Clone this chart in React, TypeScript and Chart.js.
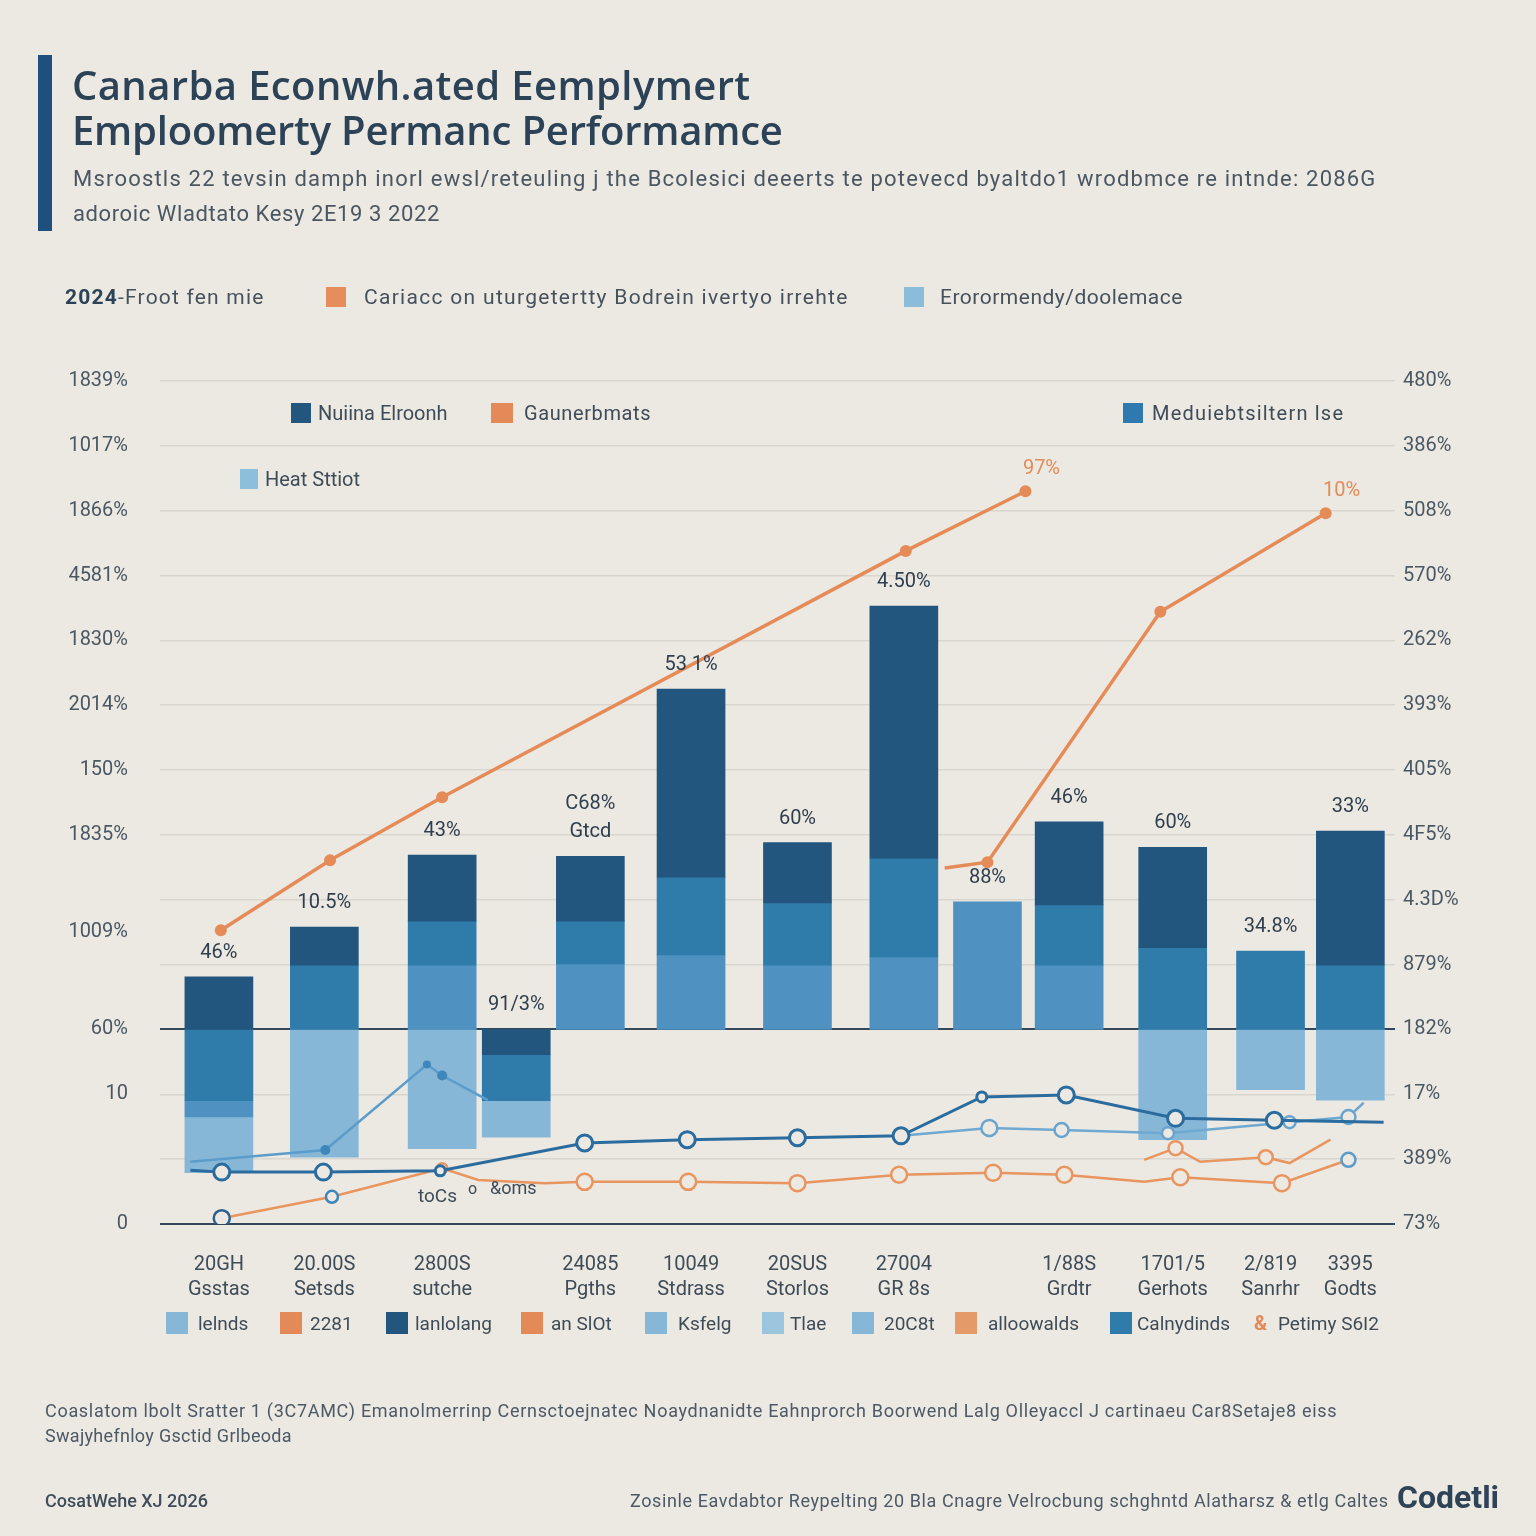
import React, { useEffect, useRef } from "react";
import { Chart, registerables } from "chart.js";

Chart.register(...registerables);

// ---------- DATA ----------
const categories: (string | string[])[] = [
  ["20GH", "Gsstas"], ["20.00S", "Setsds"], ["2800S", "sutche"], "",
  ["24085", "Pgths"], ["10049", "Stdrass"], ["20SUS", "Storlos"], ["27004", "GR 8s"], "",
  ["1/88S", "Grdtr"], ["1701/5", "Gerhots"], ["2/819", "Sanrhr"], ["3395", "Godts"],
];
// x value of each group (period index, irregular spacing as in the source)
const barX = [0.12, 1.23, 2.47, 3.25, 4.03, 5.09, 6.21, 7.33, 8.21, 9.07, 10.16, 11.19, 12.03];

// floating bar segments [from, to] per tone
const darkSeg = [[3, 3.81], [3.99, 4.58], [4.67, 5.69], [2.61, 3], [4.67, 5.67], [5.35, 8.25], [4.95, 5.88], [5.64, 9.53], null, [4.92, 6.2], [4.26, 5.81], null, [3.99, 6.06]];
const midSeg = [[1.9, 3], [3, 3.99], [3.99, 4.67], [1.9, 2.61], [4.01, 4.67], [4.15, 5.35], [3.99, 4.95], [4.12, 5.64], null, [3.99, 4.92], [3, 4.26], [3, 4.21], [3, 3.99]];
const lightSeg = [[1.65, 1.9], null, [3, 3.99], null, [3, 4.01], [3, 4.15], [3, 3.99], [3, 4.12], [3, 4.97], [3, 3.99], null, null, null];
const paleSeg = [[0.79, 1.65], [1.03, 3], [1.16, 3], [1.34, 1.9], null, null, null, null, null, null, [1.3, 3], [2.07, 3], [1.91, 3]];

const barLabels: (string | string[])[] = ["46%", "10.5%", "43%", "91/3%", ["Gtcd", "C68%"], "53 1%", "60%", "4.50%", "88%", "46%", "60%", "34.8%", "33%"];

// line series (x in period-index units)
const orangeAX = [0.14, 1.29, 2.47, 7.35, 8.61];
const orangeAY = [4.53, 5.61, 6.58, 10.38, 11.3];
const orangeBX = [7.76, 8.21, 10.03, 11.77];
const orangeBY = [5.49, 5.58, 9.44, 10.96];
const blueL1X = [-0.18, 1.24, 2.31, 2.47, 2.95];
const blueL1Y = [0.96, 1.14, 2.46, 2.29, 1.91];
const blueD1X = [-0.18, 0.15, 1.22, 2.45, 3.97, 5.05, 6.21, 7.3, 8.15, 9.04, 10.19, 11.23, 12.38];
const blueD1Y = [0.83, 0.8, 0.8, 0.82, 1.25, 1.3, 1.33, 1.36, 1.96, 1.99, 1.63, 1.6, 1.57];
const blueL2X = [7.3, 8.23, 8.99, 10.11, 11.39, 12.01, 12.17];
const blueL2Y = [1.36, 1.48, 1.45, 1.4, 1.57, 1.65, 1.87];
const orangeLowX = [0.15, 1.31, 2.47, 2.85, 3.55, 3.97, 5.06, 6.21, 7.28, 8.27, 9.02, 9.86, 10.24, 11.31, 12.01];
const orangeLowY = [0.09, 0.42, 0.86, 0.68, 0.63, 0.65, 0.65, 0.63, 0.76, 0.79, 0.76, 0.65, 0.72, 0.63, 0.99];
const orangeLow2X = [9.86, 10.19, 10.45, 11.14, 11.39, 11.82];
const orangeLow2Y = [0.99, 1.17, 0.96, 1.03, 0.94, 1.3];
const lineEndLabels = ["97%", "10%"];

const leftTickValues = [13, 12, 11, 10, 9, 8, 7, 6, 4.5, 3, 2, 0];
const leftTickLabels = ["1839%", "1017%", "1866%", "4581%", "1830%", "2014%", "150%", "1835%", "1009%", "60%", "10", "0"];
const rightTickLabels = ["73%", "389%", "17%", "182%", "879%", "4.3D%", "4F5%", "405%", "393%", "262%", "570%", "508%", "386%", "480%"];

// ---------- STYLE ----------
const BG = "#ece8e2";
const DARK = "#22567f";
const MID = "#2f7cab";
const LIGHT = "#4f92c1";
const PALE = "#86b7d6";
const ORANGE = "#e58b57";
const TEXT = "#3e4c58";
const FONT = "Roboto, 'DejaVu Sans', sans-serif";

const pts = (xs: number[], ys: number[]) => xs.map((x, i) => ({ x, y: ys[i] }));
const segPts = (segs: (number[] | null)[]) => segs.map((s, i) => ({ x: barX[i], y: s }));

const labelPlugin = {
  id: "labels",
  afterDatasetsDraw(chart: any) {
    const ctx = chart.ctx;
    const xs = chart.scales.x;
    const ys = chart.scales.y;
    ctx.save();
    ctx.font = `20px ${FONT}`;
    ctx.fillStyle = "#2f3f4e";
    ctx.textAlign = "center";
    ctx.textBaseline = "middle";
    barLabels.forEach((lab, i) => {
      const segs = [darkSeg[i], midSeg[i], lightSeg[i], paleSeg[i]].filter(Boolean) as number[][];
      const top = Math.max(...segs.map((s) => s[1]));
      const px = xs.getPixelForValue(barX[i]);
      let py = ys.getPixelForValue(top) - 24;
      const lines = Array.isArray(lab) ? lab : [lab];
      lines.forEach((l) => {
        ctx.fillText(l, px, py);
        py -= 28;
      });
    });
    ctx.fillStyle = ORANGE;
    [0, 1].forEach((di) => {
      const meta = chart.getDatasetMeta(di);
      const last = meta.data[meta.data.length - 1];
      ctx.fillText(lineEndLabels[di], last.x + 16, last.y - 22);
    });
    ctx.restore();
  },
};

function Txt(props: { x: number; y: number; size: number; color?: string; weight?: number; family?: string; children: any; ls?: number }) {
  const lh = Math.round(props.size * 1.3);
  return (
    <div
      style={{
        position: "absolute",
        left: props.x,
        top: props.y - lh / 2,
        fontSize: props.size,
        lineHeight: `${lh}px`,
        color: props.color || TEXT,
        fontWeight: props.weight || 400,
        fontFamily: props.family || FONT,
        whiteSpace: "nowrap",
        letterSpacing: props.ls ?? 0,
      }}
    >
      {props.children}
    </div>
  );
}

function Sq(props: { x: number; y: number; color: string; w?: number; h?: number }) {
  const w = props.w || 20;
  const h = props.h || 20;
  return <div style={{ position: "absolute", left: props.x, top: props.y - h / 2, width: w, height: h, background: props.color }} />;
}

export default function App() {
  const ref = useRef<HTMLCanvasElement>(null);

  useEffect(() => {
    const canvas = ref.current!;
    const lineBase = { type: "line" as const, xAxisID: "x", yAxisID: "y", order: 0, tension: 0 };
    const barBase = { type: "bar" as const, order: 1, xAxisID: "x", yAxisID: "y", grouped: false, barThickness: 68, borderWidth: 0 };
    const chart = new Chart(canvas, {
      type: "bar",
      data: {
        datasets: [
          { ...lineBase, data: pts(orangeAX, orangeAY), borderColor: ORANGE, backgroundColor: ORANGE, borderWidth: 3.5, pointRadius: 6, pointBorderWidth: 0 },
          { ...lineBase, data: pts(orangeBX, orangeBY), borderColor: ORANGE, backgroundColor: ORANGE, borderWidth: 3.5, pointRadius: [0, 6, 6, 6], pointBorderWidth: 0 },
          { ...lineBase, data: pts(blueL1X, blueL1Y), borderColor: "#5b9ccb", backgroundColor: "#3f86bb", borderWidth: 2.5, pointRadius: [0, 5, 4, 5, 0], pointBorderWidth: 0 },
          { ...lineBase, data: pts(blueD1X, blueD1Y), borderColor: "#2b6c9f", backgroundColor: BG, borderWidth: 3, pointRadius: [0, 8, 8, 5, 8, 8, 8, 8, 5, 8, 8, 8, 0], pointBorderWidth: 3, pointBorderColor: "#2b6c9f" },
          { ...lineBase, data: pts(blueL2X, blueL2Y), borderColor: "#6fa8d0", backgroundColor: BG, borderWidth: 2.5, pointRadius: [0, 8, 7, 6, 6, 7, 0], pointBorderWidth: 2.5, pointBorderColor: "#6aa4cd" },
          { ...lineBase, data: pts(orangeLowX, orangeLowY), borderColor: "#e8955f", backgroundColor: BG, borderWidth: 2.5, pointRadius: [8, 6, 5, 0, 0, 8, 8, 8, 8, 8, 8, 0, 8, 8, 7], pointBorderWidth: 2.5, pointBorderColor: ["#2b5f8e", "#3f86bb", "#e8955f", "#e8955f", "#e8955f", "#e8955f", "#e8955f", "#e8955f", "#e8955f", "#e8955f", "#e8955f", "#e8955f", "#e8955f", "#e8955f", "#5b9ccb"] },
          { ...lineBase, data: pts(orangeLow2X, orangeLow2Y), borderColor: "#e8955f", backgroundColor: BG, borderWidth: 2.5, pointRadius: [0, 7, 0, 7, 0, 0], pointBorderWidth: 2.5, pointBorderColor: "#e8955f" },
          { ...barBase, label: "dark", data: segPts(darkSeg) as any, backgroundColor: DARK },
          { ...barBase, label: "mid", data: segPts(midSeg) as any, backgroundColor: MID },
          { ...barBase, label: "light", data: segPts(lightSeg) as any, backgroundColor: LIGHT },
          { ...barBase, label: "pale", data: segPts(paleSeg) as any, backgroundColor: PALE },
        ] as any,
      },
      options: {
        responsive: false,
        animation: false,
        devicePixelRatio: 1,
        layout: { padding: { left: 20, right: 71, top: 381, bottom: 232 } },
        plugins: { legend: { display: false }, tooltip: { enabled: false }, title: { display: false } },
        scales: {
          x: {
            type: "linear",
            min: -0.5,
            max: 12.5,
            offset: false,
            grid: { display: false },
            border: { display: false },
            afterBuildTicks: (s: any) => { s.ticks = barX.map((v) => ({ value: v })); },
            ticks: {
              font: { size: 20, family: FONT, lineHeight: 1.25 },
              color: TEXT,
              padding: 20,
              autoSkip: false,
              maxRotation: 0,
              callback: (v: any) => { const i = barX.indexOf(Number(v)); return i >= 0 ? categories[i] : ""; },
            },
            afterFit: (s: any) => { s.height = 80; },
          },
          y: {
            type: "linear",
            position: "left",
            min: 0,
            max: 13,
            stacked: false,
            grid: { display: false },
            border: { display: false },
            afterBuildTicks: (s: any) => { s.ticks = leftTickValues.map((v) => ({ value: v })); },
            ticks: {
              autoSkip: false,
              padding: 24,
              font: { size: 20, family: FONT },
              color: "#4a5864",
              callback: (v: any) => leftTickLabels[leftTickValues.indexOf(Number(v))] ?? "",
            },
            afterFit: (s: any) => { s.width = 140; },
          },
          y2: {
            type: "linear",
            position: "right",
            min: 0,
            max: 13,
            border: { display: false },
            grid: {
              drawTicks: false,
              color: (c: any) => (c.tick && (c.tick.value === 3 || c.tick.value === 0) ? "#33485a" : "#d9d6cf"),
              lineWidth: (c: any) => (c.tick && (c.tick.value === 3 || c.tick.value === 0) ? 2 : 1.5),
            },
            afterBuildTicks: (s: any) => { s.ticks = rightTickLabels.map((_, i) => ({ value: i })); },
            ticks: {
              autoSkip: false,
              padding: 8,
              font: { size: 20, family: FONT },
              color: "#4a5864",
              callback: (v: any) => rightTickLabels[Number(v)] ?? "",
            },
            afterFit: (s: any) => { s.width = 70; },
          },
        },
      } as any,
      plugins: [labelPlugin],
    });
    return () => chart.destroy();
  }, []);

  return (
    <div style={{ position: "absolute", left: 0, top: 0, width: 1536, height: 1536, background: BG, overflow: "hidden", fontFamily: FONT }}>
      <canvas ref={ref} width={1536} height={1536} style={{ position: "absolute", left: 0, top: 0, width: 1536, height: 1536 }} />

      {/* header */}
      <div style={{ position: "absolute", left: 38, top: 55, width: 14, height: 176, background: "#1f4f7c" }} />
      <Txt x={72} y={85} size={40} weight={600} color="#2c4256" family="'Open Sans', Roboto, sans-serif" ls={0.4}>Canarba Econwh.ated Eemplymert</Txt>
      <Txt x={72} y={130} size={40} weight={600} color="#2c4256" family="'Open Sans', Roboto, sans-serif" ls={-0.2}>Emploomerty Permanc Performamce</Txt>
      <Txt x={73} y={178} size={22} color="#4a5763" ls={1.2}>Msroostls 22  tevsin damph inorl ewsl/reteuling j the Bcolesici deeerts te potevecd byaltdo1 wrodbmce re intnde:  2086G</Txt>
      <Txt x={73} y={213} size={22} color="#4a5763" ls={0.6}>adoroic Wladtato Kesy 2E19 3 2022</Txt>

      {/* top legend */}
      <Txt x={65} y={297} size={21} color="#45525e" ls={1.2}><b style={{ color: "#2c4256" }}>2024</b>-Froot fen mie</Txt>
      <Sq x={326} y={297} color="#e58e5c" />
      <Txt x={364} y={297} size={21} color="#45525e" ls={1.3}>Cariacc on uturgetertty Bodrein ivertyo irrehte</Txt>
      <Sq x={904} y={297} color="#8bbcd9" />
      <Txt x={940} y={297} size={21} color="#45525e" ls={0.5}>Erorormendy/doolemace</Txt>

      {/* in-chart legend */}
      <Sq x={291} y={413} color={DARK} />
      <Txt x={318} y={413} size={20}>Nuiina Elroonh</Txt>
      <Sq x={491} y={413} color="#e38a58" w={22} />
      <Txt x={524} y={413} size={20} ls={0.6}>Gaunerbmats</Txt>
      <Sq x={1123} y={413} color="#2e7ab0" />
      <Txt x={1152} y={413} size={20} ls={1.2}>Meduiebtsiltern lse</Txt>
      <Sq x={240} y={479} color="#8dbedb" w={18} />
      <Txt x={265} y={479} size={20}>Heat Sttiot</Txt>

      {/* stray annotations */}
      <Txt x={418} y={1195} size={19}>toCs</Txt>
      <Txt x={468} y={1188} size={16}>o</Txt>
      <Txt x={490} y={1187} size={18}>&amp;oms</Txt>

      {/* bottom legend */}
      <Sq x={166} y={1323} color={PALE} w={22} h={22} />
      <Txt x={198} y={1323} size={19}>lelnds</Txt>
      <Sq x={280} y={1323} color="#e38a58" w={22} h={22} />
      <Txt x={310} y={1323} size={19}>2281</Txt>
      <Sq x={386} y={1323} color={DARK} w={22} h={22} />
      <Txt x={415} y={1323} size={19}>lanlolang</Txt>
      <Sq x={521} y={1323} color="#e38a58" w={22} h={22} />
      <Txt x={551} y={1323} size={19}>an SlOt</Txt>
      <Sq x={645} y={1323} color={PALE} w={22} h={22} />
      <Txt x={678} y={1323} size={19}>Ksfelg</Txt>
      <Sq x={762} y={1323} color="#9cc5de" w={22} h={22} />
      <Txt x={790} y={1323} size={19}>Tlae</Txt>
      <Sq x={852} y={1323} color={PALE} w={22} h={22} />
      <Txt x={884} y={1323} size={19}>20C8t</Txt>
      <Sq x={955} y={1323} color="#e59a6a" w={22} h={22} />
      <Txt x={988} y={1323} size={19}>alloowalds</Txt>
      <Sq x={1110} y={1323} color={MID} w={22} h={22} />
      <Txt x={1137} y={1323} size={19}>Calnydinds</Txt>
      <Txt x={1254} y={1323} size={20} color="#e38a58" weight={700}>&amp;</Txt>
      <Txt x={1278} y={1323} size={19}>Petimy S6I2</Txt>

      {/* footer */}
      <Txt x={45} y={1410} size={18} color="#4c5966" ls={0.7}>Coaslatom lbolt Sratter 1 (3C7AMC) Emanolmerrinp Cernsctoejnatec Noaydnanidte Eahnprorch Boorwend Lalg Olleyaccl J cartinaeu Car8Setaje8 eiss</Txt>
      <Txt x={45} y={1435} size={18} color="#4c5966" ls={0.3}>Swajyhefnloy Gsctid Grlbeoda</Txt>
      <Txt x={45} y={1500} size={18} color="#3f4d5a" weight={500}>CosatWehe XJ 2026</Txt>
      <Txt x={630} y={1500} size={18} color="#4c5966" ls={0.6}>Zosinle Eavdabtor Reypelting 20 Bla Cnagre Velrocbung schghntd Alatharsz &amp; etlg Caltes</Txt>
      <Txt x={1397} y={1497} size={32} color="#2e4356" weight={700}>Codetli</Txt>
    </div>
  );
}
